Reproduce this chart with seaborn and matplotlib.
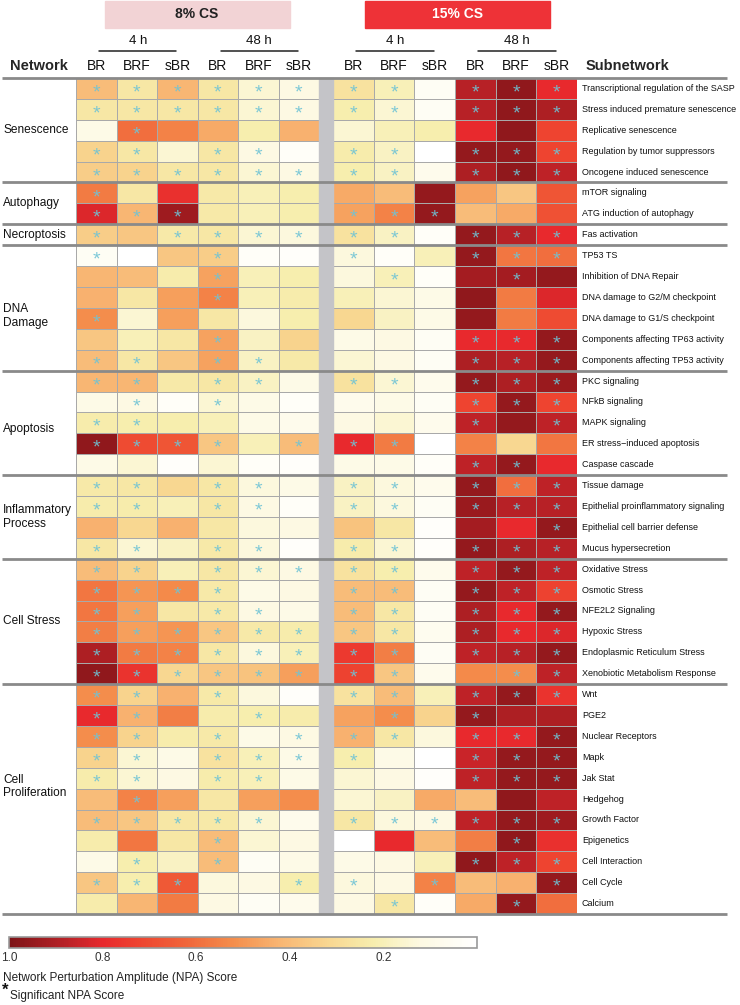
import numpy as np
import pandas as pd
import matplotlib
matplotlib.use("Agg")
import matplotlib.pyplot as plt
import seaborn as sns
from matplotlib.colors import LinearSegmentedColormap
from matplotlib.lines import Line2D
from matplotlib.patches import Rectangle
import matplotlib.transforms as mtrans

# ---------------- data ----------------
network_names = ["Senescence", "Autophagy", "Necroptosis", "DNA\nDamage", "Apoptosis",
                 "Inflammatory\nProcess", "Cell Stress", "Cell\nProliferation"]
network_sizes = [5, 2, 1, 6, 5, 4, 6, 11]

subnetworks = [
    "Transcriptional regulation of the SASP", "Stress induced premature senescence",
    "Replicative senescence", "Regulation by tumor suppressors", "Oncogene induced senescence",
    "mTOR signaling", "ATG induction of autophagy",
    "Fas activation",
    "TP53 TS", "Inhibition of DNA Repair", "DNA damage to G2/M checkpoint",
    "DNA damage to G1/S checkpoint", "Components affecting TP63 activity",
    "Components affecting TP53 activity",
    "PKC signaling", "NFkB signaling", "MAPK signaling", "ER stress\u2212induced apoptosis",
    "Caspase cascade",
    "Tissue damage", "Epithelial proinflammatory signaling", "Epithelial cell barrier defense",
    "Mucus hypersecretion",
    "Oxidative Stress", "Osmotic Stress", "NFE2L2 Signaling", "Hypoxic Stress",
    "Endoplasmic Reticulum Stress", "Xenobiotic Metabolism Response",
    "Wnt", "PGE2", "Nuclear Receptors", "Mapk", "Jak Stat", "Hedgehog", "Growth Factor",
    "Epigenetics", "Cell Interaction", "Cell Cycle", "Calcium",
]

columns = ["BR", "BRF", "sBR", "BR", "BRF", "sBR"]
time_labels = ["4 h", "48 h"]
dose_labels = ["8% CS", "15% CS"]

# NPA scores, 8% CS (4h BR, BRF, sBR, 48h BR, BRF, sBR)
npa_8 = [
    [0.40, 0.25, 0.42, 0.25, 0.15, 0.12],
    [0.25, 0.25, 0.25, 0.25, 0.15, 0.12],
    [0.10, 0.60, 0.55, 0.45, 0.22, 0.43],
    [0.33, 0.25, 0.15, 0.25, 0.12, 0.03],
    [0.35, 0.33, 0.25, 0.25, 0.15, 0.12],
    [0.57, 0.25, 0.78, 0.24, 0.20, 0.22],
    [0.82, 0.42, 0.93, 0.24, 0.20, 0.22],
    [0.35, 0.37, 0.24, 0.25, 0.15, 0.13],
    [0.05, 0.00, 0.37, 0.35, 0.03, 0.02],
    [0.42, 0.40, 0.23, 0.47, 0.20, 0.22],
    [0.43, 0.25, 0.48, 0.55, 0.20, 0.23],
    [0.52, 0.15, 0.48, 0.25, 0.13, 0.22],
    [0.37, 0.20, 0.25, 0.47, 0.18, 0.33],
    [0.40, 0.25, 0.37, 0.47, 0.18, 0.24],
    [0.42, 0.42, 0.24, 0.25, 0.18, 0.10],
    [0.10, 0.12, 0.03, 0.15, 0.10, 0.03],
    [0.23, 0.22, 0.22, 0.20, 0.10, 0.08],
    [0.96, 0.70, 0.67, 0.37, 0.20, 0.40],
    [0.10, 0.15, 0.02, 0.15, 0.03, 0.02],
    [0.24, 0.25, 0.32, 0.25, 0.13, 0.10],
    [0.23, 0.23, 0.20, 0.25, 0.12, 0.03],
    [0.43, 0.32, 0.43, 0.25, 0.13, 0.12],
    [0.25, 0.15, 0.18, 0.24, 0.13, 0.02],
    [0.40, 0.33, 0.20, 0.25, 0.15, 0.12],
    [0.58, 0.50, 0.53, 0.24, 0.10, 0.12],
    [0.58, 0.48, 0.25, 0.24, 0.12, 0.10],
    [0.56, 0.48, 0.50, 0.37, 0.24, 0.23],
    [0.90, 0.57, 0.55, 0.25, 0.13, 0.20],
    [0.96, 0.77, 0.32, 0.37, 0.38, 0.48],
    [0.52, 0.33, 0.43, 0.24, 0.13, 0.02],
    [0.80, 0.43, 0.56, 0.23, 0.22, 0.23],
    [0.52, 0.33, 0.23, 0.24, 0.10, 0.12],
    [0.33, 0.15, 0.10, 0.27, 0.20, 0.10],
    [0.23, 0.15, 0.12, 0.23, 0.20, 0.10],
    [0.40, 0.55, 0.48, 0.25, 0.48, 0.52],
    [0.40, 0.37, 0.25, 0.24, 0.15, 0.08],
    [0.23, 0.58, 0.25, 0.40, 0.15, 0.12],
    [0.10, 0.22, 0.18, 0.40, 0.05, 0.10],
    [0.37, 0.22, 0.66, 0.13, 0.12, 0.22],
    [0.23, 0.42, 0.57, 0.12, 0.05, 0.08],
]

# NPA scores, 15% CS
npa_15 = [
    [0.27, 0.20, 0.05, 0.88, 0.96, 0.80],
    [0.22, 0.15, 0.05, 0.88, 0.96, 0.90],
    [0.15, 0.20, 0.22, 0.80, 0.96, 0.72],
    [0.23, 0.18, 0.00, 0.95, 0.95, 0.72],
    [0.22, 0.18, 0.08, 0.90, 0.96, 0.87],
    [0.45, 0.40, 0.95, 0.47, 0.37, 0.67],
    [0.47, 0.55, 0.95, 0.40, 0.45, 0.68],
    [0.27, 0.18, 0.03, 0.95, 0.88, 0.80],
    [0.13, 0.03, 0.20, 0.95, 0.58, 0.60],
    [0.13, 0.20, 0.03, 0.92, 0.92, 0.95],
    [0.20, 0.15, 0.10, 0.96, 0.57, 0.82],
    [0.32, 0.18, 0.10, 0.95, 0.57, 0.70],
    [0.10, 0.12, 0.05, 0.80, 0.80, 0.95],
    [0.15, 0.12, 0.05, 0.90, 0.88, 0.95],
    [0.27, 0.15, 0.08, 0.95, 0.90, 0.94],
    [0.08, 0.10, 0.05, 0.72, 0.95, 0.72],
    [0.12, 0.15, 0.08, 0.87, 0.95, 0.87],
    [0.80, 0.57, 0.00, 0.55, 0.32, 0.58],
    [0.10, 0.10, 0.03, 0.87, 0.95, 0.80],
    [0.18, 0.13, 0.08, 0.95, 0.60, 0.87],
    [0.18, 0.13, 0.05, 0.94, 0.88, 0.88],
    [0.38, 0.25, 0.02, 0.92, 0.80, 0.95],
    [0.23, 0.15, 0.02, 0.95, 0.90, 0.88],
    [0.27, 0.22, 0.08, 0.87, 0.95, 0.87],
    [0.40, 0.40, 0.05, 0.95, 0.87, 0.73],
    [0.40, 0.25, 0.05, 0.90, 0.80, 0.95],
    [0.37, 0.25, 0.07, 0.90, 0.80, 0.82],
    [0.75, 0.56, 0.05, 0.87, 0.88, 0.95],
    [0.73, 0.37, 0.08, 0.53, 0.52, 0.87],
    [0.27, 0.40, 0.20, 0.87, 0.95, 0.77],
    [0.47, 0.52, 0.33, 0.95, 0.90, 0.90],
    [0.43, 0.25, 0.13, 0.80, 0.80, 0.95],
    [0.22, 0.10, 0.00, 0.85, 0.95, 0.95],
    [0.15, 0.12, 0.02, 0.87, 0.95, 0.95],
    [0.15, 0.18, 0.45, 0.40, 0.96, 0.87],
    [0.25, 0.13, 0.12, 0.87, 0.95, 0.93],
    [0.00, 0.80, 0.40, 0.56, 0.96, 0.78],
    [0.10, 0.12, 0.20, 0.96, 0.87, 0.72],
    [0.13, 0.12, 0.55, 0.40, 0.43, 0.95],
    [0.12, 0.25, 0.03, 0.45, 0.95, 0.60],
]

# significance flags (1 = significant NPA score)
sig_8 = ["111111", "111111", "010000", "110110", "111111", "100000", "111000", "101111",
         "100100", "000100", "000100", "100000", "000100", "110110", "110110", "010100",
         "110000", "111101", "000000", "110110", "110110", "000000", "110110", "110111",
         "111100", "110110", "111111", "111111", "111111", "110100", "110010", "110101",
         "110111", "110110", "010000", "111110", "000100", "010100", "111001", "000000"]
sig_15 = ["110111", "110111", "000000", "110111", "110111", "000000", "111000", "110111",
          "100111", "010010", "000000", "000000", "000111", "000111", "110111", "000111",
          "000101", "110000", "000110", "110111", "110111", "000001", "110111", "110111",
          "110111", "110111", "110111", "110111", "110011", "110111", "010100", "110111",
          "100111", "000111", "000000", "111111", "000010", "000111", "101001", "010010"]

# ---------------- style ----------------
sns.set_theme(style="white")
plt.rcParams["font.family"] = ["Liberation Sans", "DejaVu Sans"]

cmap = LinearSegmentedColormap.from_list("npa", [
    (0.00, "#ffffff"), (0.12, "#fdf9e2"), (0.22, "#f7eeae"), (0.32, "#f8d690"),
    (0.42, "#f8b673"), (0.52, "#f48e4c"), (0.62, "#f0663a"), (0.72, "#ee4530"),
    (0.80, "#e8292d"), (0.88, "#b82126"), (1.00, "#7d1417")])

W, H = 740, 1005
def fx(px): return px / W
def fy(py): return 1 - py / H

TOP, BOT = 78, 914
L0, L1 = 76, 319
R0, R1 = 333, 577
STAR = "#6fc3d5"

fig = plt.figure(figsize=(W / 100, H / 100), dpi=100)
axL = fig.add_axes([fx(L0), fy(BOT), (L1 - L0) / W, (BOT - TOP) / H])
axR = fig.add_axes([fx(R0), fy(BOT), (R1 - R0) / W, (BOT - TOP) / H])
cax = fig.add_axes([fx(9), fy(948), (477 - 9) / W, 11 / H])

dfL = pd.DataFrame(npa_8, index=subnetworks)
dfR = pd.DataFrame(npa_15, index=subnetworks)
annL = np.array([["*" if c == "1" else "" for c in s] for s in sig_8])
annR = np.array([["*" if c == "1" else "" for c in s] for s in sig_15])

akw = dict(color=STAR, fontsize=14, alpha=0.9)
sns.heatmap(dfL, ax=axL, cmap=cmap, vmin=0, vmax=1, linewidths=0.6, linecolor="#a9a9a9",
            annot=annL, fmt="", annot_kws=akw, cbar=True, cbar_ax=cax,
            cbar_kws={"orientation": "horizontal"}, xticklabels=False, yticklabels=False)
sns.heatmap(dfR, ax=axR, cmap=cmap, vmin=0, vmax=1, linewidths=0.6, linecolor="#a9a9a9",
            annot=annR, fmt="", annot_kws=akw, cbar=False, xticklabels=False, yticklabels=False)

for ax in (axL, axR):
    ax.set_xlabel(""); ax.set_ylabel("")
    for t in ax.texts:
        x, y = t.get_position()
        t.set_position((x, y + 0.22))

# gap column
fig.add_artist(Rectangle((fx(L1), fy(BOT)), (R0 - L1) / W, (BOT - TOP) / H,
                         transform=fig.transFigure, color="#c4c4c8", zorder=0.5))

# group separators
bounds = np.concatenate([[0], np.cumsum(network_sizes)])
tr = mtrans.blended_transform_factory(fig.transFigure, axL.transData)
for b in bounds:
    fig.add_artist(Line2D([fx(2), fx(727)], [b, b], transform=tr, color="#8a8a8a",
                          lw=2.0, solid_capstyle="butt", zorder=5))

# network labels (small vertical nudges as in the reference)
label_shift = [0.0, 0.0, 0.0, 0.4, 0.3, 0.0, 0.0, -0.6]
for name, lo, hi, dy in zip(network_names, bounds[:-1], bounds[1:], label_shift):
    fig.text(fx(3), 0, name, transform=tr, fontsize=8.6, va="center", ha="left",
             color="#111111", linespacing=1.2).set_y((lo + hi) / 2 + dy)

# subnetwork labels
trR = mtrans.blended_transform_factory(fig.transFigure, axR.transData)
for i, s in enumerate(subnetworks):
    fig.text(fx(582), i + 0.5, s, transform=trR, fontsize=6.5, va="center", ha="left",
             color="#111111")

# header
fig.add_artist(Rectangle((fx(105), fy(28)), 185 / W, 27 / H, transform=fig.transFigure,
                         color="#f2d3d5"))
fig.add_artist(Rectangle((fx(365), fy(28)), 185 / W, 27 / H, transform=fig.transFigure,
                         color="#ee3237"))
fig.text(fx(197), fy(14.5), dose_labels[0], fontsize=10, fontweight="bold",
         ha="center", va="center", color="#222222")
fig.text(fx(457), fy(14.5), dose_labels[1], fontsize=10, fontweight="bold",
         ha="center", va="center", color="white")

for x0, x1 in ((L0, L1), (R0, R1)):
    cw = (x1 - x0) / 6
    centers = [x0 + (i + 0.5) * cw for i in range(6)]
    for i, c in enumerate(centers):
        fig.text(fx(c), fy(66), columns[i], fontsize=10, ha="center", va="center",
                 color="#111111")
    for g in range(2):
        a, b = centers[3 * g] + 3, centers[3 * g + 2] - 1
        fig.add_artist(Line2D([fx(a), fx(b)], [fy(51), fy(51)], transform=fig.transFigure,
                              color="#222222", lw=1.1))
        fig.text(fx((a + b) / 2), fy(41), time_labels[g], fontsize=9.5, ha="center",
                 va="center", color="#111111")

fig.text(fx(10), fy(66), "Network", fontsize=10.5, fontweight="bold", ha="left", va="center")
fig.text(fx(586), fy(66), "Subnetwork", fontsize=10.5, fontweight="bold", ha="left",
         va="center")

# colorbar
cbar = axL.collections[0].colorbar
cax.invert_xaxis()
cbar.set_ticks([1.0, 0.8, 0.6, 0.4, 0.2])
cbar.set_ticklabels(["1.0", "0.8", "0.6", "0.4", "0.2"])
cax.tick_params(length=0, labelsize=8.5, labelcolor="#333333", pad=3)
cbar.outline.set_edgecolor("#999999")
cbar.outline.set_linewidth(1.2)

fig.text(fx(3), fy(978), "Network Perturbation Amplitude (NPA) Score", fontsize=8.5,
         ha="left", va="center", color="#222222")
fig.text(fx(2), fy(990), "*", fontsize=12, fontweight="bold", ha="left", va="center",
         color="#111111")
fig.text(fx(10), fy(996), "Significant NPA Score", fontsize=8.5, ha="left", va="center",
         color="#222222")

fig.savefig("out.png", dpi=100)
